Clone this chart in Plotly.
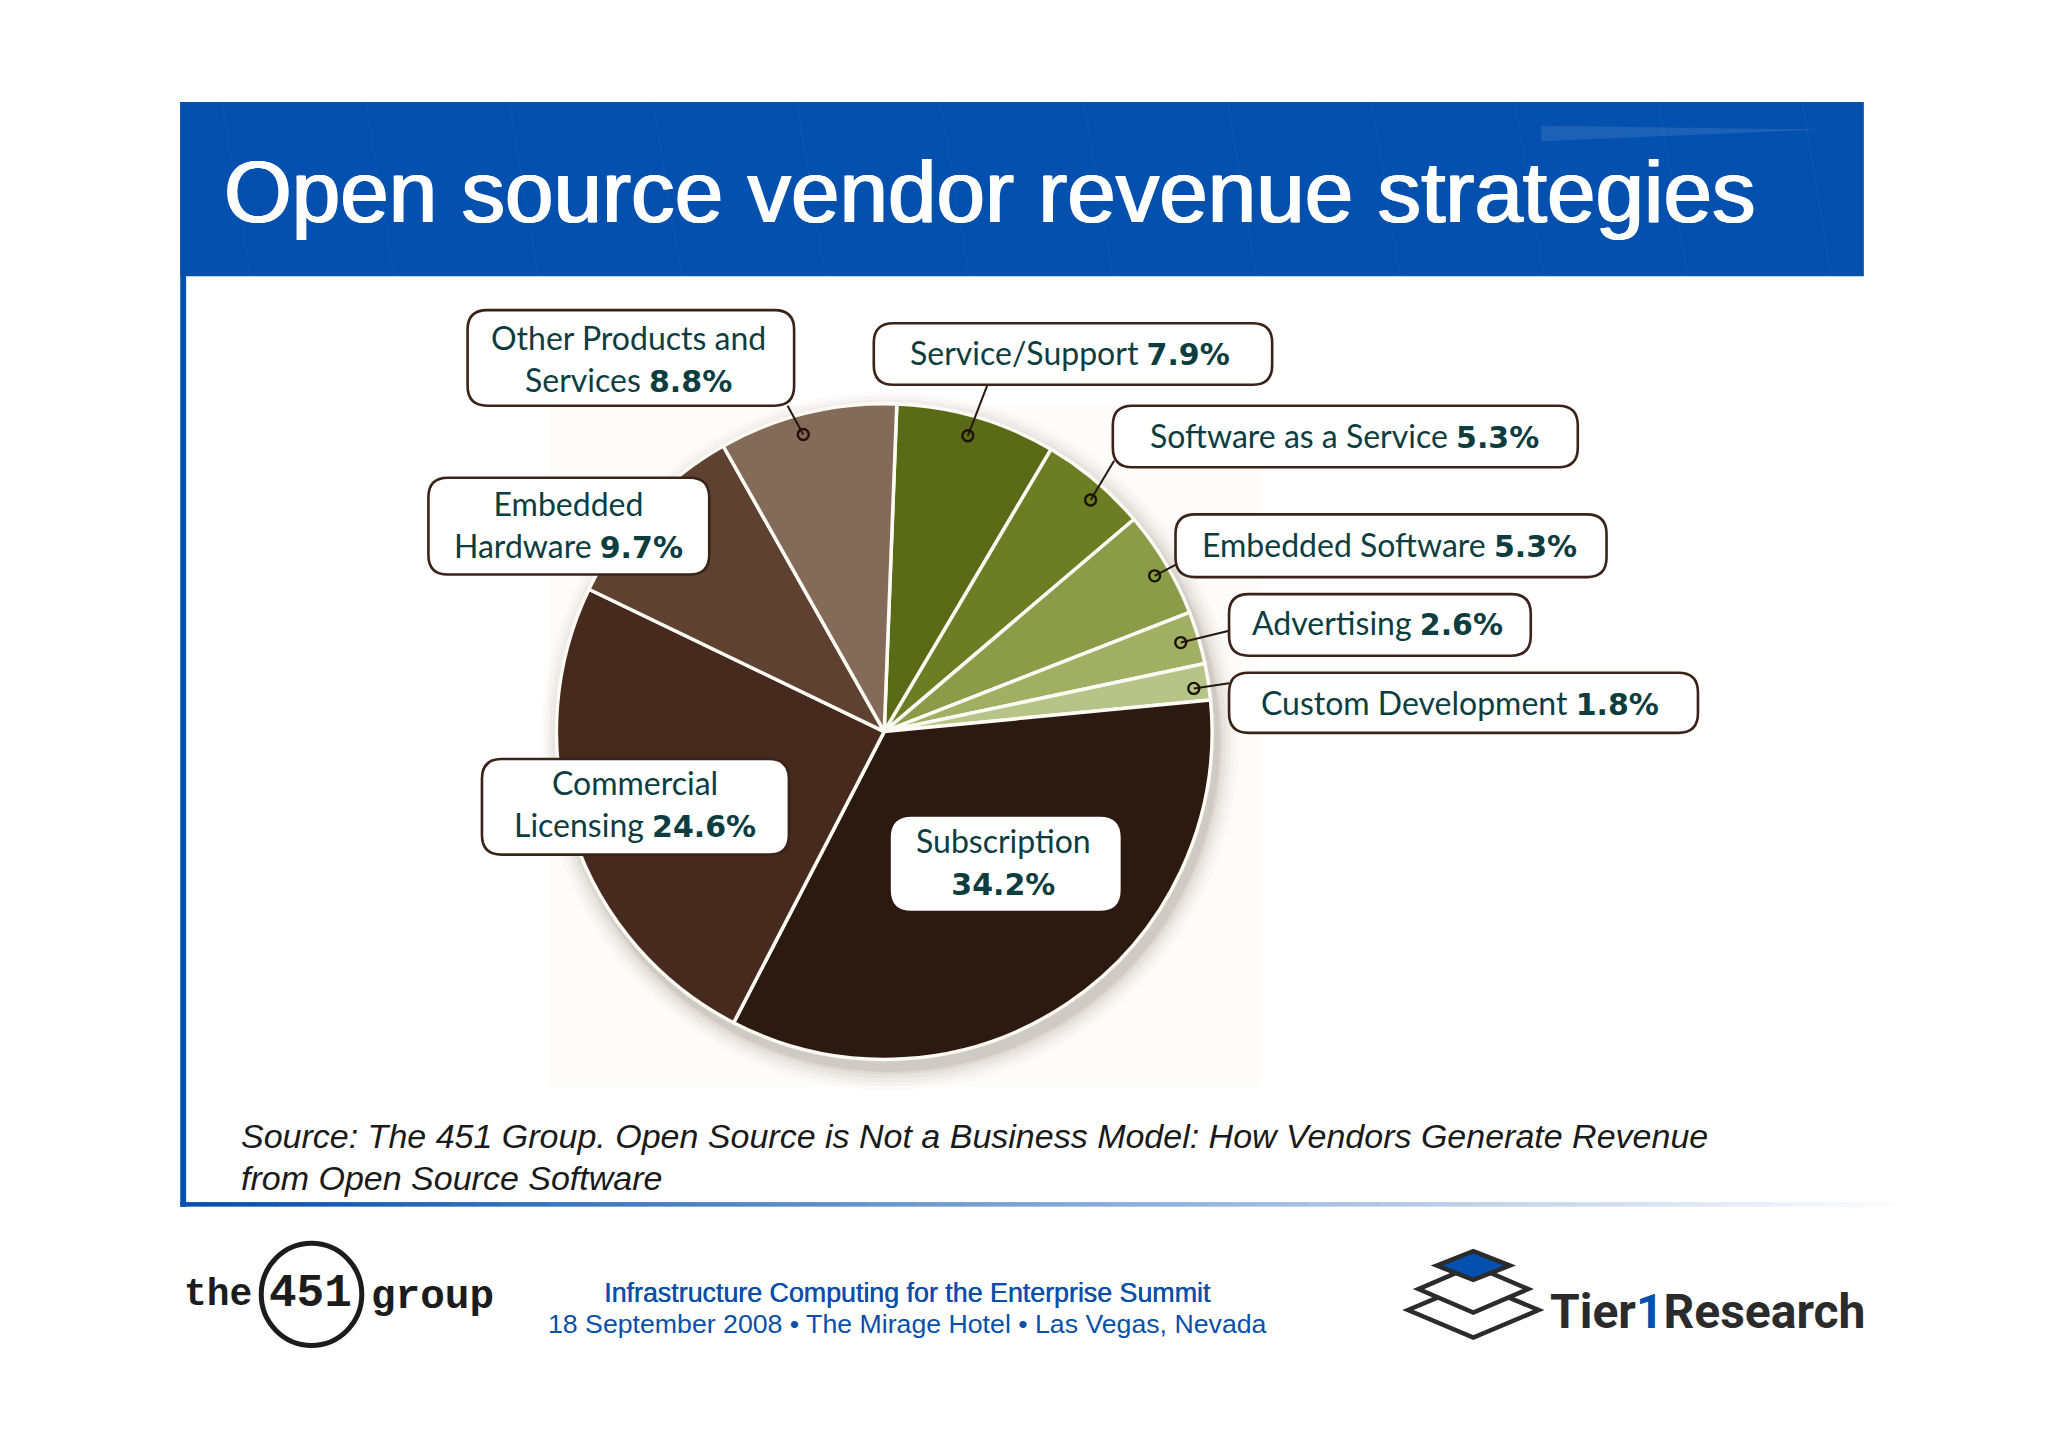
import plotly.graph_objects as go

# ---- data ----
labels = ["Service/Support", "Software as a Service", "Embedded Software", "Advertising",
          "Custom Development", "Subscription", "Commercial Licensing",
          "Embedded Hardware", "Other Products and Services"]
values = [7.9, 5.3, 5.3, 2.6, 1.8, 34.2, 24.6, 9.7, 8.8]
slice_colors = ["#5a6a16", "#6b7e24", "#8b9c48", "#a0af62", "#b7c488",
                "#2c1a10", "#452a1d", "#5e4131", "#846a58"]

W, H = 2048, 1447
S = 2048 / 1568          # picture units to page pixels
SY = S * 1.002


def px(x):
    return x * S / W


def py(y):
    return 1 - y * SY / H


def rounded(x0, y0, x1, y1, r):
    a, b, c, d = px(x0), py(y0), px(x1), py(y1)
    rx, ry = r * S / W, r * S / H
    return (f"M{a+rx},{b} L{c-rx},{b} Q{c},{b} {c},{b-ry} L{c},{d+ry} Q{c},{d} {c-rx},{d} "
            f"L{a+rx},{d} Q{a},{d} {a},{d+ry} L{a},{b-ry} Q{a},{b} {a+rx},{b} Z")


shapes, annos = [], []


def rect(x0, y0, x1, y1, color, layer="below"):
    shapes.append(dict(type="rect", xref="paper", yref="paper", x0=px(x0), x1=px(x1),
                       y0=py(y1), y1=py(y0), fillcolor=color, line_width=0, layer=layer))


def text(x, y, s, size, color, family="Liberation Sans", anchor="center", shadow=None):
    font = dict(size=size, color=color, family=family)
    if shadow:
        font["shadow"] = shadow
    annos.append(dict(xref="paper", yref="paper", x=px(x), y=py(y), text=s, showarrow=False,
                      xanchor=anchor, yanchor="middle", align=anchor, font=font))


# ---- slide frame ----
rect(0, 0, 1568, 1106, "#ffffff")
rect(420, 310, 965, 830, "#fdfcfa")
rect(138, 78, 1427, 211, "#0350ae")
shapes.append(dict(type="path", xref="paper", yref="paper", layer="below", line_width=0,
                   path=f"M{px(1180)},{py(108)} L{px(1395)},{py(99)} L{px(1180)},{py(96)} Z",
                   fillcolor="rgba(255,255,255,0.10)"))
for gx in range(170, 1427, 110):
    shapes.append(dict(type="line", xref="paper", yref="paper", layer="below",
                       x0=px(gx), x1=px(gx + 22), y0=py(78), y1=py(211),
                       line=dict(color="rgba(255,255,255,0.045)", width=1)))
rect(138, 78, 142.5, 922, "#0350ae")
N = 70
for i in range(N):
    t = i / (N - 1)
    r = int(3 + (250 - 3) * t)
    g = int(80 + (251 - 80) * t)
    b = int(174 + (254 - 174) * t)
    x0 = 138 + (1450 - 138) * i / N
    rect(x0, 918.5, x0 + (1450 - 138) / N + 0.5, 922, f"rgb({r},{g},{b})")

# ---- pie shadow ----
CX, CY, R = 677, 559, 251
for k, (grow, a) in enumerate([(16, 0.02), (13, 0.03), (10, 0.04), (7, 0.05), (4, 0.07), (2, 0.09)]):
    dx, dy = 4, 7
    shapes.append(dict(type="circle", xref="paper", yref="paper", layer="below", line_width=0,
                       x0=px(CX + dx - R - grow), x1=px(CX + dx + R + grow),
                       y0=py(CY + dy + R + grow), y1=py(CY + dy - R - grow),
                       fillcolor=f"rgba(90,70,50,{a})"))

# ---- call-outs ----
INK = "#0d3d3f"
BORDER = "#3a2318"
boxes = [
    (358, 237, 608, 310, True), (669, 247, 974, 294, True), (852, 310, 1208, 357, True),
    (900, 393, 1230, 441, True), (941, 454, 1172, 501, True), (941, 514, 1300, 560, True),
    (328, 365, 543, 439, True), (369, 580, 604, 653, True), (683, 625, 857, 695, False),
]
leaders = [
    (603, 310, 615, 332), (756, 294, 741, 333), (853, 352, 835, 382),
    (901, 431, 884, 440), (941, 482, 904, 491), (941, 522, 914, 526),
]
for x0, y0, x1, y1 in leaders:
    shapes.append(dict(type="line", xref="paper", yref="paper", layer="above",
                       x0=px(x0), y0=py(y0), x1=px(x1), y1=py(y1),
                       line=dict(color="#26170f", width=2)))
    rr = 4.2
    shapes.append(dict(type="circle", xref="paper", yref="paper", layer="above",
                       x0=px(x1 - rr), x1=px(x1 + rr), y0=py(y1 + rr), y1=py(y1 - rr),
                       line=dict(color="#1d120b", width=2.4), fillcolor="rgba(0,0,0,0)"))
for x0, y0, x1, y1, edge in boxes:
    shapes.append(dict(type="path", xref="paper", yref="paper", layer="above",
                       path=rounded(x0, y0, x1, y1, 15), fillcolor="#ffffff",
                       line=dict(color=BORDER if edge else "#ffffff", width=2.6)))

FONT = "Lato"
SZ = 32


def pct(v):
    return f'<span style="font-family:DejaVu Sans;font-size:30px"><b>{v}%</b></span>'


text(481, 274, f"Other Products and<br>Services {pct(values[8])}", SZ, INK, FONT)
text(819, 269, f"Service/Support {pct(values[0])}", SZ, INK, FONT)
text(1029, 333, f"Software as a Service {pct(values[1])}", SZ, INK, FONT)
text(1064, 416, f"Embedded Software {pct(values[2])}", SZ, INK, FONT)
text(1055, 476, f"Advertising {pct(values[3])}", SZ, INK, FONT)
text(1118, 537, f"Custom Development {pct(values[4])}", SZ, INK, FONT)
text(435, 401, f"Embedded<br>Hardware {pct(values[7])}", SZ, INK, FONT)
text(486, 614, f"Commercial<br>Licensing {pct(values[6])}", SZ, INK, FONT)
text(768, 658, f"Subscription<br>{pct(values[5])}", SZ, INK, FONT)

# ---- slide text ----
text(170, 146, "Open source vendor revenue strategies", 87.2, "#ffffff", anchor="left",
     shadow="1px 0 0 #ffffff, -1px 0 0 #ffffff")
text(183, 868, "<i>Source: The 451 Group. Open Source is Not a Business Model: How Vendors Generate Revenue</i>",
     34, "#1a1a1a", anchor="left")
text(183, 900, "<i>from Open Source Software</i>", 34, "#1a1a1a", anchor="left")
text(695, 988, "Infrastructure Computing for the Enterprise Summit", 26.8, "#0a4fa8",
     shadow="0.5px 0 0 #0a4fa8")
text(695, 1012, "18 September 2008 • The Mirage Hotel • Las Vegas, Nevada", 26.7, "#0a4fa8")

# ---- logos ----
MONO = "Liberation Mono"
text(167, 989, "<b>the</b>", 38, "#1c1c1c", MONO)
text(331, 991, "<b>group</b>", 41, "#1c1c1c", MONO)
text(238, 989, "<b>451</b>", 46, "#1c1c1c", MONO)
shapes.append(dict(type="circle", xref="paper", yref="paper", layer="above",
                   x0=px(200), x1=px(277), y0=py(1028), y1=py(950),
                   line=dict(color="#1c1c1c", width=5), fillcolor="rgba(0,0,0,0)"))
for cx, cy, hw, hh, fill in [(1128, 1001, 50, 21, "rgba(0,0,0,0)"), (1128, 985, 42, 18, "#ffffff"),
                             (1128, 967, 28, 11, "#0350ae")]:
    shapes.append(dict(type="path", xref="paper", yref="paper", layer="above",
                       path=f"M{px(cx-hw)},{py(cy)} L{px(cx)},{py(cy-hh)} L{px(cx+hw)},{py(cy)} L{px(cx)},{py(cy+hh)} Z",
                       fillcolor=fill, line=dict(color="#2b2b2b", width=4.5)))
text(1307.5, 1002, '<b>Tier<span style="color:#0350ae">1</span>Research</b>', 48, "#2b2b2b", "Roboto")

fig = go.Figure(go.Pie(
    labels=labels, values=values, sort=False, direction="clockwise", rotation=2.2,
    marker=dict(colors=slice_colors, line=dict(color="#fbfaf3", width=3.5)),
    textinfo="none", hoverinfo="label+percent", showlegend=False,
    domain=dict(x=[px(CX - R), px(CX + R)], y=[py(CY + R), py(CY - R)]),
))
fig.update_layout(width=W, height=H, margin=dict(l=0, r=0, t=0, b=0), paper_bgcolor="#ffffff",
                  showlegend=False, shapes=shapes, annotations=annos)
fig.write_html("out.html", post_script="document.body.style.margin='0';",
               config={"displayModeBar": False})
